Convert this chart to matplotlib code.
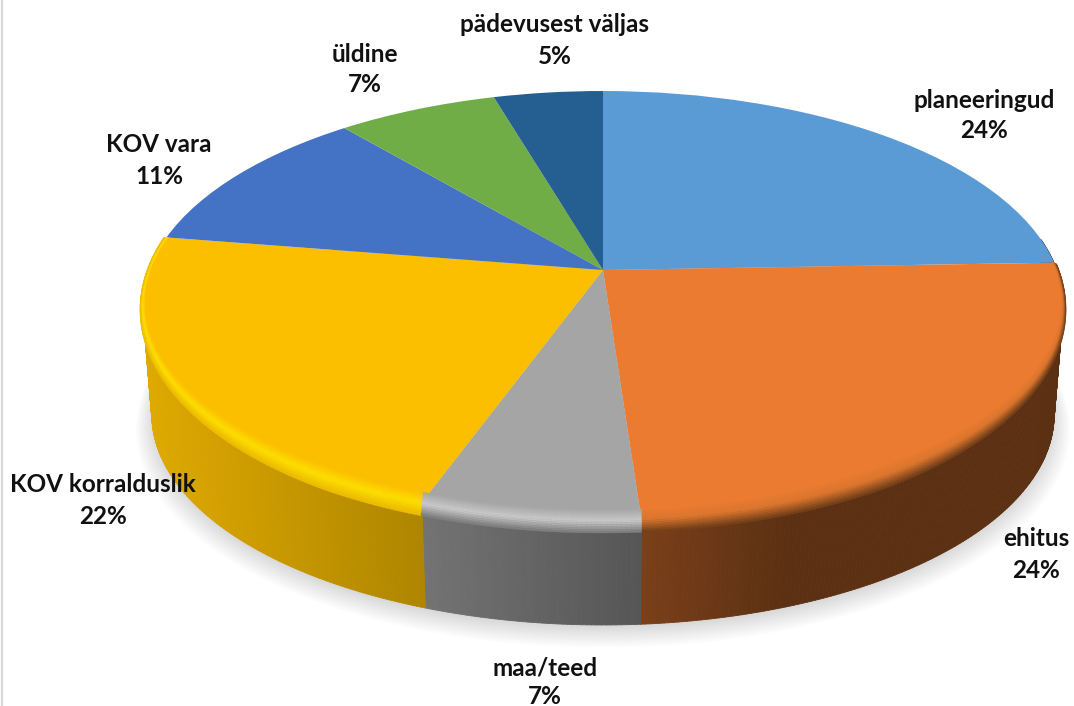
import numpy as np
import matplotlib
matplotlib.use("Agg")
import matplotlib.pyplot as plt
from matplotlib.collections import PolyCollection
from matplotlib.colors import to_rgb
from matplotlib.transforms import Transform

# ---- data ----
categories = ["planeeringud", "ehitus", "maa/teed", "KOV korralduslik",
              "KOV vara", "üldine", "pädevusest väljas"]
shares = [24.45, 24.45, 6.6, 22.1, 11.35, 6.6, 4.5]

# ---- styles ----
colors = ["#5B9BD5", "#EB7B30", "#A5A5A5", "#FBBF00", "#4472C4", "#70AD47", "#255E91"]
rim_mid = [None, "#D9742D", "#CBCBCB", "#FFE000", None, None, None]
rim_out = [None, "#6E3D18", "#7A7A7A", "#EDBB00", None, None, None]
label_xy = [(984, 100, 130), (1036, 538, 571), (545, 668, 697), (103, 485, 517),
            (159, 144, 176), (365, 54, 85), (555, 25, 56)]

APEX = (603.0, 270.0)
A, B, K = 454.0, 208.6, 0.1655
DEPTH, BOTTOM_SCALE = 110.0, 0.98
LIP_DROP, LIP_WIDE = 13.0, 1.006
shade_x = [140, 420, 640, 790, 1070]
shade_v = [0.89, 0.70, 0.52, 0.39, 0.39]


class Perspective(Transform):
    """Tilted-disc projection of the unit pie to picture pixels."""
    input_dims = 2
    output_dims = 2
    is_separable = False
    has_inverse = False

    def transform_non_affine(self, values):
        v = np.asarray(values, dtype=float)
        w = 1 + K * v[:, 1]
        return np.column_stack((APEX[0] + A * v[:, 0] / w, APEX[1] - B * v[:, 1] / w))


persp = Perspective()


def contour(deg):
    t = np.radians(deg)
    return persp.transform(np.column_stack((np.cos(t), np.sin(t))))


def lower(p):
    q = (p - APEX) * BOTTOM_SCALE + APEX
    q[:, 1] += DEPTH
    return q


def lip(p, deg, f):
    """Point a fraction f of the way out across the bevelled lip."""
    q = p.copy()
    q[:, 0] = APEX[0] + (p[:, 0] - APEX[0]) * (1 + (LIP_WIDE - 1) * f)
    q[:, 1] += f * LIP_DROP * np.clip(-np.sin(np.radians(deg)) + 0.15, 0, 1)
    return q


plt.rcParams["font.family"] = ["Lato", "DejaVu Sans"]
fig = plt.figure(figsize=(10.74, 7.06), dpi=100, facecolor="white")
ax = fig.add_axes([0, 0, 1, 1])

wedges, _ = ax.pie(shares, colors=colors, startangle=90, counterclock=False,
                   radius=1, center=(0, 0), wedgeprops={"linewidth": 0})
ax.set_aspect("auto")
ax.set_xlim(0, 1074)
ax.set_ylim(706, 0)
ax.axis("off")

for w in wedges:
    w.set_transform(persp + ax.transData)
    w.set_zorder(5)

# soft shadow under the disc
ring = lower(contour(np.linspace(0, 360, 361)))
for i in range(16):
    f = i / 15
    p = (ring - APEX) * (1.035 - 0.05 * f) + APEX
    p[:, 1] += 10 - 8 * f
    ax.fill(p[:, 0], p[:, 1], color="#808080", alpha=0.022, lw=0, zorder=1)

# side wall and lip of every slice
for w, col, mid, out in zip(wedges, colors, rim_mid, rim_out):
    base = np.array(to_rgb(col))
    th = np.linspace(w.theta1, w.theta2, max(int(w.theta2 - w.theta1) * 2, 4))
    top = contour(th)
    bot = lower(top)
    quads, cols = [], []
    for i in range(len(th) - 1):
        if np.sin(np.radians(th[i])) > 0.15 and np.sin(np.radians(th[i + 1])) > 0.15:
            continue
        quads.append([top[i], top[i + 1], bot[i + 1], bot[i]])
        xm = 0.5 * (top[i, 0] + top[i + 1, 0])
        cols.append(np.clip(base * np.interp(xm, shade_x, shade_v), 0, 1))
    ax.add_collection(PolyCollection(quads, facecolors=cols, edgecolors=cols,
                                     linewidths=0.6, zorder=3))
    if mid is None:
        continue
    stops = np.linspace(-0.8, 1, 15)
    mc, oc = np.array(to_rgb(mid)), np.array(to_rgb(out))
    quads, cols = [], []
    for j in range(len(stops) - 1):
        t = (0.5 * (stops[j] + stops[j + 1]) + 0.8) / 1.8
        c = base + (mc - base) * t / 0.5 if t < 0.5 else mc + (oc - mc) * (t - 0.5) / 0.5
        a, b = lip(top, th, stops[j]), lip(top, th, stops[j + 1])
        for i in range(len(th) - 1):
            quads.append([a[i], a[i + 1], b[i + 1], b[i]])
            cols.append(c)
    ax.add_collection(PolyCollection(quads, facecolors=cols, edgecolors=cols,
                                     linewidths=0.3, zorder=6))

# labels
for name, val, (x, y1, y2) in zip(categories, shares, label_xy):
    ax.text(x, y1, name, ha="center", va="center", fontsize=17.5,
            fontweight="bold", color="#111111", zorder=10)
    ax.text(x, y2, f"{int(val + 0.5)}%", ha="center", va="center", fontsize=17.5,
            fontweight="bold", color="#111111", zorder=10)

# frame sliver on the left edge
ax.axvline(2, color="#D9D9D9", lw=1.6, zorder=0)

fig.savefig("out.png", dpi=100, facecolor="white")
